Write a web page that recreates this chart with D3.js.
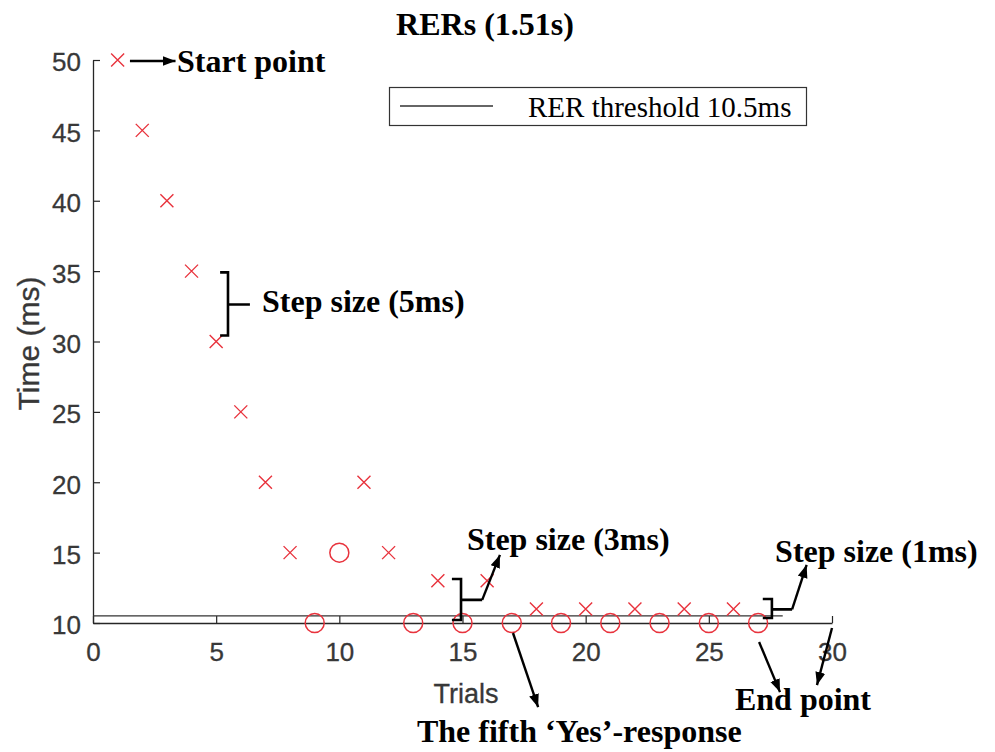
<!DOCTYPE html>
<html><head><meta charset="utf-8">
<script src="https://cdn.jsdelivr.net/npm/d3@7"></script>
<style>body{margin:0;background:#fff}svg{display:block}</style>
</head><body><svg id="c" width="995" height="752"></svg>
<script>
// ---- data ----
const noTrials  = [1,2,3,4,5,6,7,8,11,12,14,16,18,20,22,24,26];
const noTimes   = [50,45,40,35,30,25,20,15,20,15,13,13,11,11,11,11,11];
const yesTrials = [9,10,13,15,17,19,21,23,25,27];
const yesTimes  = [10,15,10,10,10,10,10,10,10,10];
const xTicks = [0,5,10,15,20,25,30];
const yTicks = [10,15,20,25,30,35,40,45,50];
const threshold = 10.5;
const thresholdRange = [0, 28];
const titleText = "RERs (1.51s)";
const legendText = "RER threshold 10.5ms";
const xLabel = "Trials", yLabel = "Time (ms)";
// annotations (data coordinates)
const annTexts = [
  {t:"Start point", x:3.41, y:49.14},
  {t:"Step size (5ms)", x:6.86, y:32.13},
  {t:"Step size (3ms)", x:15.18, y:15.2},
  {t:"Step size (1ms)", x:27.69, y:14.36},
  {t:"End point", x:26.06, y:3.81},
  {t:"The fifth \u2018Yes\u2019-response", x:13.15, y:1.53}
];
const annArrows = [
  [1.5,49.93,3.35,49.93],
  [15.8,11.64,16.52,14.84],
  [28.38,10.97,28.97,14.13],
  [27.04,8.65,27.89,5.09],
  [30.0,9.64,29.39,5.59],
  [17.05,9.29,18.07,4.02]
];
const brackets = [
  {x:5.48, y0:30.43, y1:34.91, xl:5.16, xr:6.37, ym:32.63},
  {x:14.94, y0:10.21, y1:13.13, xl:14.57, xr:15.80, ym:11.64},
  {x:27.56, y0:10.36, y1:11.71, xl:27.19, xr:28.38, ym:10.97}
];

// ---- drawing ----
const svg = d3.select("#c");
const x = d3.scaleLinear().domain([0,30]).range([93,832]);
const y = d3.scaleLinear().domain([10,50]).range([623,60]);
const red = "#e8333d", axisCol = "#262626", tickText = "#383838";
const serif = "'Liberation Serif','Times New Roman',serif";
const sans = "'Liberation Sans',Arial,Helvetica,sans-serif";

svg.append("defs").append("marker")
  .attr("id","ah").attr("markerUnits","userSpaceOnUse")
  .attr("markerWidth",15).attr("markerHeight",12)
  .attr("refX",13).attr("refY",5).attr("orient","auto")
  .append("path").attr("d","M0,0 L13,5 L0,10 Z").attr("fill","#000");

// axes
const xAxis = d3.axisBottom(x).tickValues(xTicks).tickSize(-7).tickPadding(20).tickSizeOuter(0);
const yAxis = d3.axisLeft(y).tickValues(yTicks).tickSize(-7).tickPadding(12).tickSizeOuter(0);
const gx = svg.append("g").attr("transform",`translate(0,${y(10)})`).call(xAxis);
const gy = svg.append("g").attr("transform",`translate(${x(0)},0)`).call(yAxis);
[gx,gy].forEach(g=>{
  g.select(".domain").attr("stroke",axisCol).attr("stroke-width",1.3);
  g.selectAll(".tick line").attr("stroke",axisCol).attr("stroke-width",1.2);
  g.selectAll(".tick text").attr("fill",tickText).attr("stroke",tickText).attr("stroke-width",0.3)
    .style("font-family",sans).style("font-size","26px");
});
gx.selectAll(".tick text").attr("dy","0.71em");
gy.selectAll(".tick text").attr("dy","0.42em");

// axis labels
svg.append("text").attr("x",466).attr("y",703).attr("text-anchor","middle")
  .style("font-family",sans).style("font-size","27px").attr("fill",tickText).attr("stroke",tickText).attr("stroke-width",0.3).text(xLabel);
svg.append("text").attr("transform",`translate(39,${(y(10)+y(50))/2+2}) rotate(-90)`).attr("text-anchor","middle")
  .style("font-family",sans).style("font-size","30px").attr("fill",tickText).attr("stroke",tickText).attr("stroke-width",0.3).text(yLabel);

// threshold line
svg.append("line").attr("x1",x(thresholdRange[0])).attr("x2",x(thresholdRange[1]))
  .attr("y1",y(threshold)).attr("y2",y(threshold)).attr("stroke","#333").attr("stroke-width",1.3);

// 'No' markers (x)
const s = 6.5;
svg.append("g").selectAll("path").data(noTrials.map((t,i)=>[t,noTimes[i]])).join("path")
  .attr("d",d=>{const cx=x(d[0]),cy=y(d[1]);return `M${cx-s},${cy-s}L${cx+s},${cy+s}M${cx-s},${cy+s}L${cx+s},${cy-s}`;})
  .attr("stroke",red).attr("stroke-width",1.4).attr("fill","none");
// 'Yes' markers (o)
svg.append("g").selectAll("circle").data(yesTrials.map((t,i)=>[t,yesTimes[i]])).join("circle")
  .attr("cx",d=>x(d[0])).attr("cy",d=>y(d[1])).attr("r",9.5)
  .attr("stroke",red).attr("stroke-width",1.5).attr("fill","none");

// title
svg.append("text").attr("x",485).attr("y",35).attr("text-anchor","middle")
  .style("font-family",serif).style("font-weight","bold").style("font-size","32px").attr("fill","#000").text(titleText);

// legend
svg.append("rect").attr("x",389.5).attr("y",87.5).attr("width",417).attr("height",38)
  .attr("fill","#fff").attr("stroke","#333").attr("stroke-width",1.2);
svg.append("line").attr("x1",400).attr("x2",493).attr("y1",106).attr("y2",106).attr("stroke","#333").attr("stroke-width",1.3);
svg.append("text").attr("x",528).attr("y",117).style("font-family",serif).style("font-size","29px").attr("fill","#000").text(legendText);

// brackets
const bg = svg.append("g").attr("stroke","#000").attr("stroke-width",2.6).attr("fill","none");
brackets.forEach(b=>{
  bg.append("path").attr("d",`M${x(b.xl)},${y(b.y1)}H${x(b.x)}V${y(b.y0)}H${x(b.xl)}M${x(b.x)},${y(b.ym)}H${x(b.xr)}`);
});

// arrows
svg.append("g").selectAll("line").data(annArrows).join("line")
  .attr("x1",d=>x(d[0])).attr("y1",d=>y(d[1])).attr("x2",d=>x(d[2])).attr("y2",d=>y(d[3]))
  .attr("stroke","#000").attr("stroke-width",2.4).attr("marker-end","url(#ah)");

// annotation texts
svg.append("g").selectAll("text").data(annTexts).join("text")
  .attr("x",d=>x(d.x)).attr("y",d=>y(d.y))
  .style("font-family",serif).style("font-weight","bold").style("font-size","32px").attr("fill","#000")
  .text(d=>d.t);
</script></body></html>
